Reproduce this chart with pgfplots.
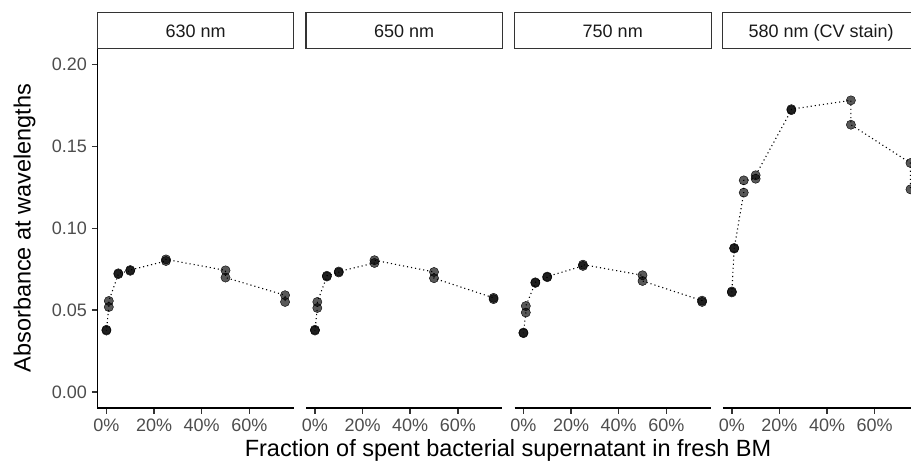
\documentclass[border=0pt]{standalone}
\usepackage{fontspec}
\setmainfont{Liberation Sans}
\usepackage{xcolor}
\usepackage{pgfplots}
\usepackage{pgfplotstable}
\pgfplotsset{compat=1.18}

\definecolor{grey30}{RGB}{77,77,77}
\definecolor{grey20}{RGB}{51,51,51}
\definecolor{grey10}{RGB}{26,26,26}
\newcommand{\ticfont}{\fontsize{18}{21.6}\selectfont}
\newcommand{\labfont}{\fontsize{23.5}{28}\selectfont}

% absorbance, two replicates per fraction (x in %)
\pgfplotstableread{
x y
0 0.0380
0 0.0375
1 0.0519
1 0.0556
5 0.0720
5 0.0725
10 0.0740
10 0.0745
25 0.0800
25 0.0810
50 0.0743
50 0.0699
75 0.0591
75 0.0550
}\tabA
\pgfplotstableread{
x y
0 0.0380
0 0.0375
1 0.0513
1 0.0550
5 0.0705
5 0.0710
10 0.0730
10 0.0736
25 0.0788
25 0.0805
50 0.0733
50 0.0695
75 0.0575
75 0.0567
}\tabB
\pgfplotstableread{
x y
0 0.0363
0 0.0359
1 0.0485
1 0.0525
5 0.0666
5 0.0670
10 0.0701
10 0.0705
25 0.0770
25 0.0778
50 0.0713
50 0.0678
75 0.0558
75 0.0550
}\tabC
\pgfplotstableread{
x y
0 0.0614
0 0.0608
1 0.0880
1 0.0876
5 0.1218
5 0.1293
10 0.1303
10 0.1324
25 0.1722
25 0.1728
50 0.1782
50 0.1633
75 0.1399
75 0.1238
}\tabD

\pgfplotsset{facet/.style={
  scale only axis, width=196.5pt, height=360pt, anchor=south west,
  xmin=-3.75, xmax=78.75, ymin=-0.01, ymax=0.21,
  axis x line*=bottom,
  xtick={0,20,40,60}, xticklabels={0\%,20\%,40\%,60\%},
  tick align=outside, major tick length=5.5pt,
  tick style={grey20, line width=1.5pt},
  axis line style={black, line width=1.6pt, -},
  ticklabel style={font=\ticfont, text=grey30, inner sep=0pt},
  xticklabel style={yshift=-5pt},
  yticklabel style={xshift=-5pt},
  every axis title/.style={draw=grey20, line width=1pt, fill=white, at={(0.5,1)}, anchor=south,
    minimum width=196.5pt, minimum height=36pt, inner sep=0pt, outer sep=0pt,
    text height=12.9pt, text depth=0pt, font=\ticfont, text=grey10, yshift=-0.5pt},
  clip=false,
}}
\pgfplotsset{trend/.style={black, line width=1.1pt, dash pattern=on 1.1pt off 3pt, no markers},
  pts/.style={only marks, mark=*, mark size=4.6pt, mark options={draw=none, fill=black, fill opacity=0.65}}}

\begin{document}
\begin{tikzpicture}
\begin{axis}[facet, at={(97.5pt,52.7pt)}, title={630 nm},
  axis y line*=left, ytick={0,0.05,0.1,0.15,0.2}, yticklabels={0.00,0.05,0.10,0.15,0.20}]
\addplot[trend] table {\tabA};
\addplot[pts] table {\tabA};
\end{axis}
\begin{axis}[facet, at={(306pt,52.7pt)}, title={650 nm}, axis y line=none, ytick=\empty]
\addplot[trend] table {\tabB};
\addplot[pts] table {\tabB};
\end{axis}
\begin{axis}[facet, at={(514.5pt,52.7pt)}, title={750 nm}, axis y line=none, ytick=\empty]
\addplot[trend] table {\tabC};
\addplot[pts] table {\tabC};
\end{axis}
\begin{axis}[facet, at={(722.9pt,52.7pt)}, title={580 nm (CV stain)}, axis y line=none, ytick=\empty]
\addplot[trend] table {\tabD};
\addplot[pts] table {\tabD};
\end{axis}
\node[font=\labfont, anchor=base] at (508pt,4.3pt) {Fraction of spent bacterial supernatant in fresh BM};
\node[font=\labfont, anchor=base, rotate=90] at (30.5pt,233pt) {Absorbance at wavelengths};
\pgfresetboundingbox
\path[use as bounding box] (0pt,0pt) rectangle (911pt,461pt);
\end{tikzpicture}
\end{document}
